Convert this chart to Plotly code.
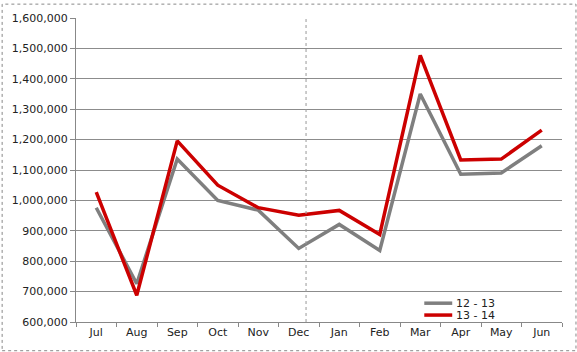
import plotly.graph_objects as go

months = ["Jul", "Aug", "Sep", "Oct", "Nov", "Dec", "Jan", "Feb", "Mar", "Apr", "May", "Jun"]
s1213 = [976000, 726000, 1136000, 1000000, 968000, 842000, 921000, 835000, 1350000, 1086000, 1090000, 1180000]
s1314 = [1027000, 688000, 1196000, 1050000, 976000, 951000, 967000, 888000, 1477000, 1133000, 1136000, 1231000]
series_names = ["12 - 13", "13 - 14"]
series_colors = ["#7f7f7f", "#cc0000"]
yticks = [600000, 700000, 800000, 900000, 1000000, 1100000, 1200000, 1300000, 1400000, 1500000, 1600000]

W, H = 577, 352
L, R, T, B = 75, 15, 15, 30
pw, ph = W - L - R, H - T - B

fig = go.Figure()
for name, vals, col in zip(series_names, [s1213, s1314], series_colors):
    fig.add_trace(go.Scatter(x=months, y=vals, mode="lines", name=name,
                             line=dict(color=col, width=3.5), showlegend=False))

fig.update_layout(
    width=W, height=H,
    margin=dict(l=L, r=R, t=T, b=B),
    paper_bgcolor="white", plot_bgcolor="white",
    font=dict(family="DejaVu Sans", size=11, color="#222222"),
    xaxis=dict(type="category", tickson="boundaries", ticks="outside", ticklen=4,
               tickcolor="#888888", showline=True, linecolor="#888888", linewidth=1,
               showgrid=False, range=[-0.5, 11.5], fixedrange=True),
    yaxis=dict(range=[600000, 1600000], tickvals=yticks, tickformat=",d",
               ticks="outside", ticklen=5, tickcolor="#888888",
               showline=True, linecolor="#888888", linewidth=1,
               showgrid=True, gridcolor="#8c8c8c", gridwidth=1, zeroline=False),
)

# manual compact legend (bottom right, inside plot)
def px_x(p):
    return (p - L) / pw

def px_y(p):
    return (H - B - p) / ph

for i, (name, col) in enumerate(zip(series_names, series_colors)):
    yy = px_y(303 + 12 * i)
    fig.add_shape(type="line", xref="paper", yref="paper", x0=px_x(424), x1=px_x(452),
                  y0=yy, y1=yy, line=dict(color=col, width=3.5))
    fig.add_annotation(xref="paper", yref="paper", x=px_x(454), y=yy, text=name,
                       showarrow=False, xanchor="left", yanchor="middle",
                       font=dict(size=11, color="#222222"))

# vertical dotted divider near Dec
fig.add_shape(type="line", xref="x", yref="paper", x0=5.18, x1=5.18, y0=0, y1=1,
              line=dict(color="#999999", width=1, dash="dot"))
# outer dotted border
fig.add_shape(type="rect", xref="paper", yref="paper",
              x0=-(L - 1) / pw, x1=1 + (R - 1) / pw, y0=-(B - 1) / ph, y1=1 + (T - 1) / ph,
              line=dict(color="#888888", width=1, dash="dot"))

fig.write_html("out.html")
